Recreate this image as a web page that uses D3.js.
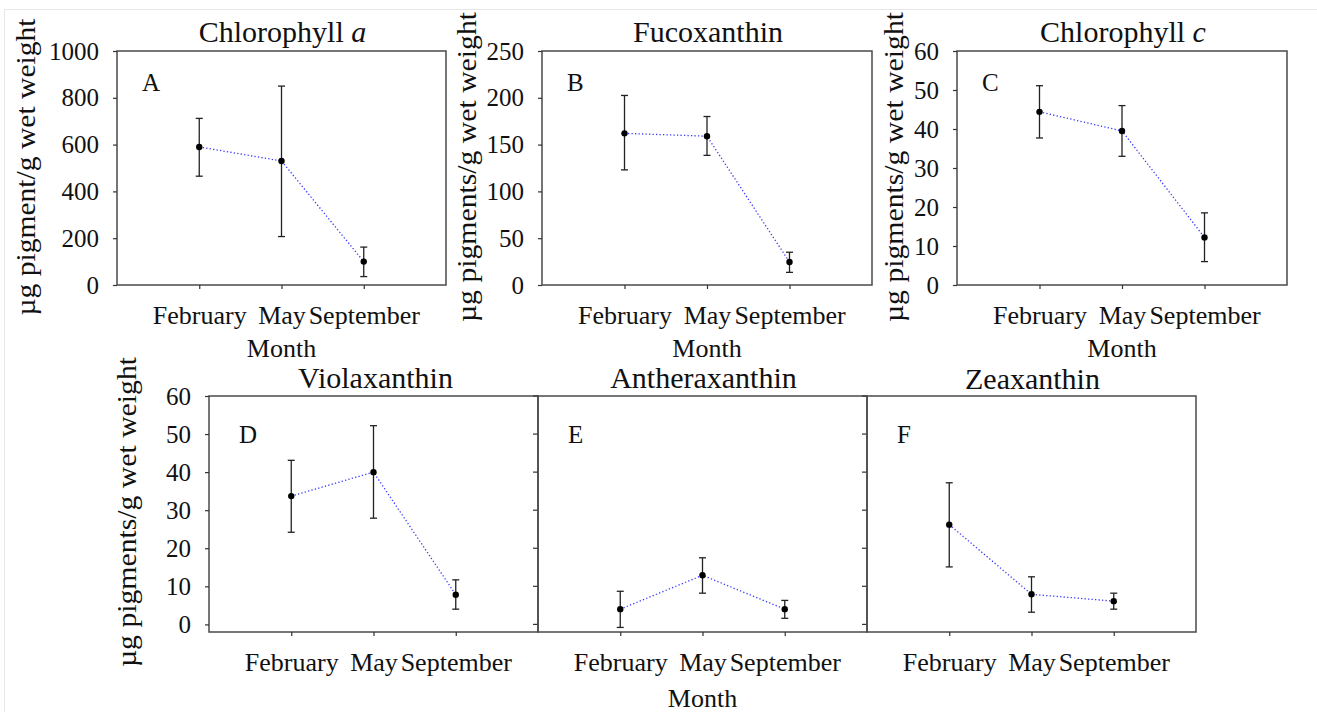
<!DOCTYPE html>
<html>
<head>
<meta charset="utf-8">
<script src="https://cdn.jsdelivr.net/npm/d3@7"></script>
<style>
  body { margin: 0; background: #fff; }
  svg text { font-family: "Liberation Serif", "Times New Roman", Times, "DejaVu Serif", serif; fill: #111; }
</style>
</head>
<body>
<div id="chart"></div>
<script>
// months on the x axis
const months = ["February", "May", "September"];

// means and error bar ends (upper / lower)
const chlaMean  = [590, 530, 100];
const chlaUpper = [712, 850, 162];
const chlaLower = [465, 207, 36];

const fucoMean  = [162, 159, 24.5];
const fucoUpper = [202.5, 180, 35];
const fucoLower = [123, 138.5, 13.5];

const chlcMean  = [44.4, 39.5, 12.2];
const chlcUpper = [51.1, 46, 18.5];
const chlcLower = [37.7, 33, 6];

const violaMean  = [33.7, 40, 7.8];
const violaUpper = [43.1, 52.2, 11.7];
const violaLower = [24.2, 27.9, 4];

const anthMean  = [4, 12.9, 4];
const anthUpper = [8.7, 17.5, 6.3];
const anthLower = [-0.8, 8.2, 1.6];

const zeaMean  = [26.2, 7.9, 6.1];
const zeaUpper = [37.2, 12.5, 8.2];
const zeaLower = [15.1, 3.2, 4];

// tick labels
const ticksChla = [0, 200, 400, 600, 800, 1000];
const ticksFuco = [0, 50, 100, 150, 200, 250];
const ticks60   = [0, 10, 20, 30, 40, 50, 60];

const serif = '"Liberation Serif", "Times New Roman", Times, "DejaVu Serif", serif';

const svg = d3.select("#chart")
    .append("svg")
    .attr("width", 1317)
    .attr("height", 712);

// faint frame of the original picture
svg.append("line").attr("x1", 4.5).attr("x2", 1317).attr("y1", 9.5).attr("y2", 9.5)
    .attr("stroke", "#e6e6e6");
svg.append("line").attr("x1", 4.5).attr("x2", 4.5).attr("y1", 9.5).attr("y2", 712)
    .attr("stroke", "#e6e6e6");

// panel layout
const panels = [
  {title: "Chlorophyll ", italic: "a", letter: "A", x0: 117, x1: 446, y0: 51, y1: 285,
   domain: [0, 1000], ticks: ticksChla, mean: chlaMean, up: chlaUpper, lo: chlaLower,
   yLabel: "µg pigment/g wet weight", yLabelX: 35, yLabelY: 167, yLabelLen: 297,
   month: true, titleY: 42, rightTicks: false},
  {title: "Fucoxanthin", letter: "B", x0: 542, x1: 872, y0: 51, y1: 285,
   domain: [0, 250], ticks: ticksFuco, mean: fucoMean, up: fucoUpper, lo: fucoLower,
   yLabel: "µg pigments/g wet weight", yLabelX: 476, yLabelY: 167, yLabelLen: 310,
   month: true, titleY: 42, rightTicks: false},
  {title: "Chlorophyll ", italic: "c", letter: "C", x0: 957, x1: 1287, y0: 51, y1: 285,
   domain: [0, 60], ticks: ticks60, mean: chlcMean, up: chlcUpper, lo: chlcLower,
   yLabel: "µg pigments/g wet weight", yLabelX: 903, yLabelY: 167, yLabelLen: 310,
   month: true, titleY: 42, rightTicks: false},
  {title: "Violaxanthin", letter: "D", x0: 209, x1: 538, y0: 396, y1: 632,
   domain: [-2, 60], ticks: ticks60, mean: violaMean, up: violaUpper, lo: violaLower,
   yLabel: "µg pigments/g wet weight", yLabelX: 136, yLabelY: 512, yLabelLen: 310,
   month: false, titleY: 388, rightTicks: true},
  {title: "Antheraxanthin", letter: "E", x0: 538, x1: 867, y0: 396, y1: 632,
   domain: [-2, 60], ticks: ticks60, mean: anthMean, up: anthUpper, lo: anthLower,
   yLabel: null, month: true, titleY: 388, rightTicks: true},
  {title: "Zeaxanthin", letter: "F", x0: 867, x1: 1196, y0: 396, y1: 632,
   domain: [-2, 60], ticks: ticks60, mean: zeaMean, up: zeaUpper, lo: zeaLower,
   yLabel: null, month: false, titleY: 389, rightTicks: false}
];

panels.forEach(function(p) {
    const g = svg.append("g");
    const bottomRow = p.y0 > 300;

    const x = d3.scalePoint().domain(months).range([p.x0, p.x1]).padding(1);
    const y = d3.scaleLinear().domain(p.domain).range([p.y1, p.y0]);

    // frame
    g.append("rect")
        .attr("x", p.x0).attr("y", p.y0)
        .attr("width", p.x1 - p.x0).attr("height", p.y1 - p.y0)
        .attr("fill", "none").attr("stroke", "#4a4a4a").attr("stroke-width", 1.5);

    // y axis (only the leftmost panels of each row carry labels)
    if (p.yLabel) {
        const ya = g.append("g")
            .attr("transform", `translate(${p.x0},0)`)
            .call(d3.axisLeft(y).tickValues(p.ticks).tickFormat(d3.format("d"))
                .tickSize(4).tickSizeOuter(0).tickPadding(14));
        ya.attr("font-family", null);
        ya.select(".domain").remove();
        ya.selectAll("line").attr("stroke", "#333").attr("stroke-width", 1.2);
        ya.selectAll("text").attr("font-size", 25).attr("fill", "#111")
            .style("font-family", serif);

        g.append("text")
            .attr("transform", `translate(${p.yLabelX},${p.yLabelY}) rotate(-90)`)
            .attr("text-anchor", "middle")
            .attr("font-size", 27)
            .attr("textLength", p.yLabelLen)
            .attr("lengthAdjust", "spacingAndGlyphs")
            .text(p.yLabel);
    }

    // inward ticks on shared right borders of the bottom row
    if (p.rightTicks) {
        g.selectAll(".rtick")
            .data(p.ticks)
            .join("line")
            .attr("x1", p.x1 - 5).attr("x2", p.x1)
            .attr("y1", d => y(d)).attr("y2", d => y(d))
            .attr("stroke", "#333").attr("stroke-width", 1.2);
    }

    // x axis
    const xa = g.append("g")
        .attr("transform", `translate(0,${p.y1})`)
        .call(d3.axisBottom(x).tickSize(4).tickSizeOuter(0));
    xa.attr("font-family", null);
    xa.select(".domain").remove();
    xa.selectAll("line").attr("stroke", "#333").attr("stroke-width", 1.2);
    xa.selectAll("text")
        .attr("y", 39).attr("dy", 0)
        .attr("font-size", 26).attr("fill", "#111")
        .style("font-family", serif);

    if (p.month) {
        g.append("text")
            .attr("x", (p.x0 + p.x1) / 2)
            .attr("y", p.y1 + (bottomRow ? 75 : 72))
            .attr("text-anchor", "middle")
            .attr("font-size", 26)
            .text("Month");
    }

    // title
    const t = g.append("text")
        .attr("x", (p.x0 + p.x1) / 2 + (p.letter === "D" ? 2 : 1))
        .attr("y", p.titleY)
        .attr("text-anchor", "middle")
        .attr("font-size", 30)
        .text(p.title);
    if (p.italic) t.append("tspan").attr("font-style", "italic").text(p.italic);

    // panel letter
    g.append("text")
        .attr("x", p.x0 + (bottomRow ? 30 : 25))
        .attr("y", p.y0 + (bottomRow ? 47 : 40))
        .attr("font-size", 25)
        .attr("fill", "#333")
        .text(p.letter);

    const rows = months.map((m, i) => ({m: m, v: p.mean[i], hi: p.up[i], lo: p.lo[i]}));

    // dotted connecting line
    g.append("path")
        .datum(rows)
        .attr("fill", "none")
        .attr("stroke", "#3a3aff")
        .attr("stroke-width", 1.3)
        .attr("stroke-dasharray", "1.3,2.2")
        .attr("d", d3.line().x(d => x(d.m)).y(d => y(d.v)));

    // error bars
    const eb = g.selectAll(".eb").data(rows).join("g");
    eb.append("line")
        .attr("x1", d => x(d.m)).attr("x2", d => x(d.m))
        .attr("y1", d => y(d.hi)).attr("y2", d => y(d.lo))
        .attr("stroke", "#222").attr("stroke-width", 1.3);
    eb.append("line")
        .attr("x1", d => x(d.m) - 3.5).attr("x2", d => x(d.m) + 3.5)
        .attr("y1", d => y(d.hi)).attr("y2", d => y(d.hi))
        .attr("stroke", "#222").attr("stroke-width", 1.3);
    eb.append("line")
        .attr("x1", d => x(d.m) - 3.5).attr("x2", d => x(d.m) + 3.5)
        .attr("y1", d => y(d.lo)).attr("y2", d => y(d.lo))
        .attr("stroke", "#222").attr("stroke-width", 1.3);

    // points
    g.selectAll(".pt").data(rows).join("circle")
        .attr("cx", d => x(d.m))
        .attr("cy", d => y(d.v))
        .attr("r", 3.2)
        .attr("fill", "#000");
});
</script>
</body>
</html>
